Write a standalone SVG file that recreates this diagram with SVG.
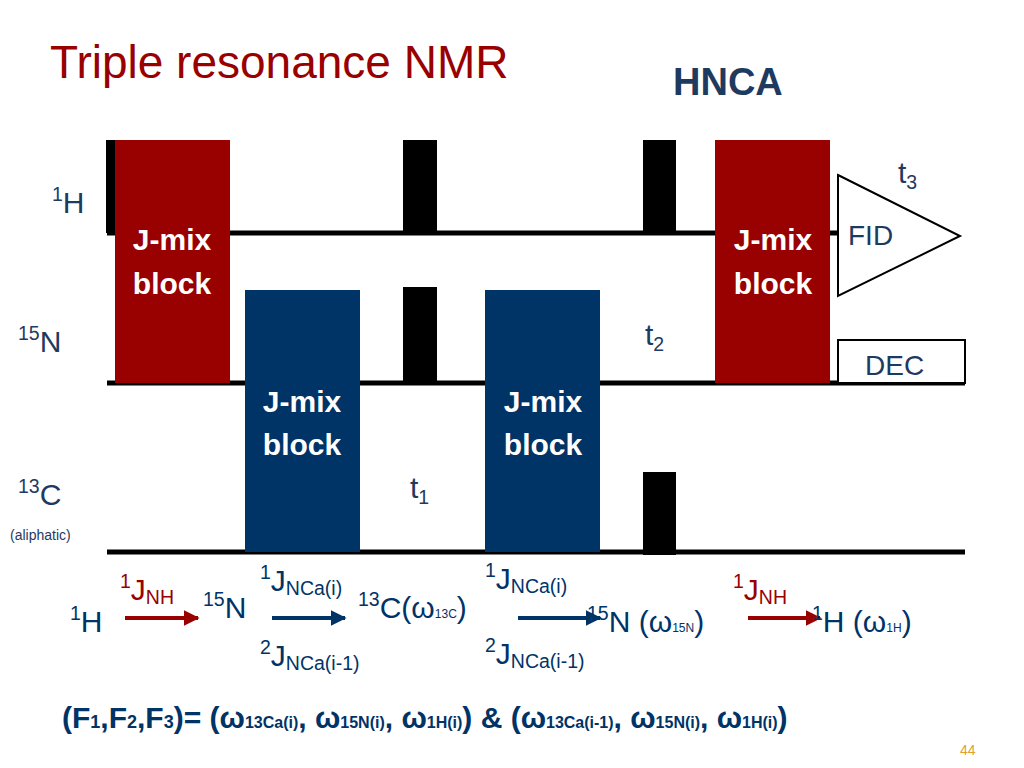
<svg xmlns="http://www.w3.org/2000/svg" width="1024" height="768" viewBox="0 0 1024 768">
<style>
text{font-family:"Liberation Sans",Arial,sans-serif}
.lbl{fill:#1f3a5f;font-size:30px}
.blk{fill:#fff;font-size:30px;font-weight:bold;text-anchor:middle}
.ln{stroke:#000;stroke-width:5}
.sub{font-size:65%}
</style>
<defs>
<marker id="ar" viewBox="0 0 10 10" refX="9" refY="5" markerWidth="4" markerHeight="4" orient="auto"><path d="M0,0L10,5L0,10z" fill="#990000"/></marker>
<marker id="ab" viewBox="0 0 10 10" refX="9" refY="5" markerWidth="4" markerHeight="4" orient="auto"><path d="M0,0L10,5L0,10z" fill="#003366"/></marker>
</defs>
<rect width="1024" height="768" fill="#fff"/>
<text x="50" y="78" font-size="46" fill="#990000">Triple resonance NMR</text>
<text x="673" y="95" font-size="38" font-weight="bold" fill="#1f3a5f">HNCA</text>
<g id="lines">
<line class="ln" x1="107" y1="233" x2="725" y2="233"/>
<line class="ln" x1="830" y1="233" x2="840" y2="233"/>
<line class="ln" x1="107" y1="383" x2="965" y2="383"/>
<line class="ln" x1="107" y1="552" x2="965" y2="552"/>
</g>
<text class="lbl" x="52" y="213"><tspan class="sub" dy="-12">1</tspan><tspan dy="12">H</tspan></text>
<text class="lbl" x="18" y="352"><tspan class="sub" dy="-12">15</tspan><tspan dy="12">N</tspan></text>
<text class="lbl" x="18" y="505"><tspan class="sub" dy="-12">13</tspan><tspan dy="12">C</tspan></text>
<text x="10" y="540" font-size="14" fill="#1f3a5f">(aliphatic)</text>
<g id="pulses" fill="#000">
<rect x="106" y="140" width="9" height="93"/>
<rect x="403" y="140" width="34" height="93"/>
<rect x="643" y="140" width="33" height="93"/>
<rect x="403" y="287" width="34" height="96"/>
<rect x="643" y="472" width="33" height="83"/>
</g>
<g id="jmix1"><rect x="115" y="140" width="115" height="243" fill="#990000"/><text class="blk" x="172" y="250">J-mix</text><text class="blk" x="172" y="294">block</text></g>
<g id="jmix2"><rect x="245" y="290" width="115" height="262" fill="#003366"/><text class="blk" x="302" y="412">J-mix</text><text class="blk" x="302" y="455">block</text></g>
<g id="jmix3"><rect x="485" y="290" width="115" height="262" fill="#003366"/><text class="blk" x="543" y="412">J-mix</text><text class="blk" x="543" y="455">block</text></g>
<g id="jmix4"><rect x="715" y="140" width="115" height="243" fill="#990000"/><text class="blk" x="773" y="250">J-mix</text><text class="blk" x="773" y="294">block</text></g>
<g id="fid"><polygon points="838,175 960,236 838,296" fill="#fff" stroke="#000" stroke-width="2"/><text x="848" y="245" font-size="28" fill="#1f3a5f">FID</text></g>
<g id="dec"><rect x="838" y="340" width="127" height="43" fill="#fff" stroke="#000" stroke-width="2"/><text x="865" y="375" font-size="28" fill="#1f3a5f">DEC</text></g>
<text class="lbl" x="898" y="183" font-size="38">t<tspan class="sub" dy="6">3</tspan></text>
<text class="lbl" x="645" y="345" font-size="38">t<tspan class="sub" dy="6">2</tspan></text>
<text class="lbl" x="410" y="498" font-size="38">t<tspan class="sub" dy="6">1</tspan></text>
<g id="connectors" stroke-width="4">
<line x1="125" y1="618" x2="198" y2="618" stroke="#990000" marker-end="url(#ar)"/>
<line x1="272" y1="618" x2="345" y2="618" stroke="#003366" marker-end="url(#ab)"/>
<line x1="518" y1="618" x2="600" y2="618" stroke="#003366" marker-end="url(#ab)"/>
<line x1="748" y1="618" x2="820" y2="618" stroke="#990000" marker-end="url(#ar)"/>
</g>
<g font-size="30" fill="#003366">
<text x="70" y="632"><tspan class="sub" dy="-12">1</tspan><tspan dy="12">H</tspan></text>
<text x="120" y="600" fill="#990000"><tspan class="sub" dy="-12">1</tspan><tspan dy="12">J</tspan><tspan class="sub" dy="4">NH</tspan></text>
<text x="203" y="618"><tspan class="sub" dy="-12">15</tspan><tspan dy="12">N</tspan></text>
<text x="260" y="591"><tspan class="sub" dy="-12">1</tspan><tspan dy="12">J</tspan><tspan class="sub" dy="4">NCa(i)</tspan></text>
<text x="260" y="666"><tspan class="sub" dy="-12">2</tspan><tspan dy="12">J</tspan><tspan class="sub" dy="4">NCa(i-1)</tspan></text>
<text x="358" y="618"><tspan class="sub" dy="-12">13</tspan><tspan dy="12">C(ω</tspan><tspan font-size="12" dy="0">13C</tspan><tspan>)</tspan></text>
<text x="485" y="589"><tspan class="sub" dy="-12">1</tspan><tspan dy="12">J</tspan><tspan class="sub" dy="4">NCa(i)</tspan></text>
<text x="485" y="664"><tspan class="sub" dy="-12">2</tspan><tspan dy="12">J</tspan><tspan class="sub" dy="4">NCa(i-1)</tspan></text>
<text x="587" y="632"><tspan class="sub" dy="-12">15</tspan><tspan dy="12">N (ω</tspan><tspan font-size="12">15N</tspan><tspan>)</tspan></text>
<text x="733" y="600" fill="#990000"><tspan class="sub" dy="-12">1</tspan><tspan dy="12">J</tspan><tspan class="sub" dy="4">NH</tspan></text>
<text x="812" y="632"><tspan class="sub" dy="-12">1</tspan><tspan dy="12">H (ω</tspan><tspan font-size="12">1H</tspan><tspan>)</tspan></text>
</g>
<text x="62" y="728" font-size="30" font-weight="bold" fill="#003366">(F<tspan font-size="18">1</tspan>,F<tspan font-size="18">2</tspan>,F<tspan font-size="18">3</tspan>)= (ω<tspan font-size="16">13Ca(i)</tspan>, ω<tspan font-size="16">15N(i)</tspan>, ω<tspan font-size="16">1H(i)</tspan>) &amp; (ω<tspan font-size="16">13Ca(i-1)</tspan>, ω<tspan font-size="16">15N(i)</tspan>, ω<tspan font-size="16">1H(i)</tspan>)</text>
<text x="960" y="755" font-size="14" fill="#e0a030">44</text>
</svg>
